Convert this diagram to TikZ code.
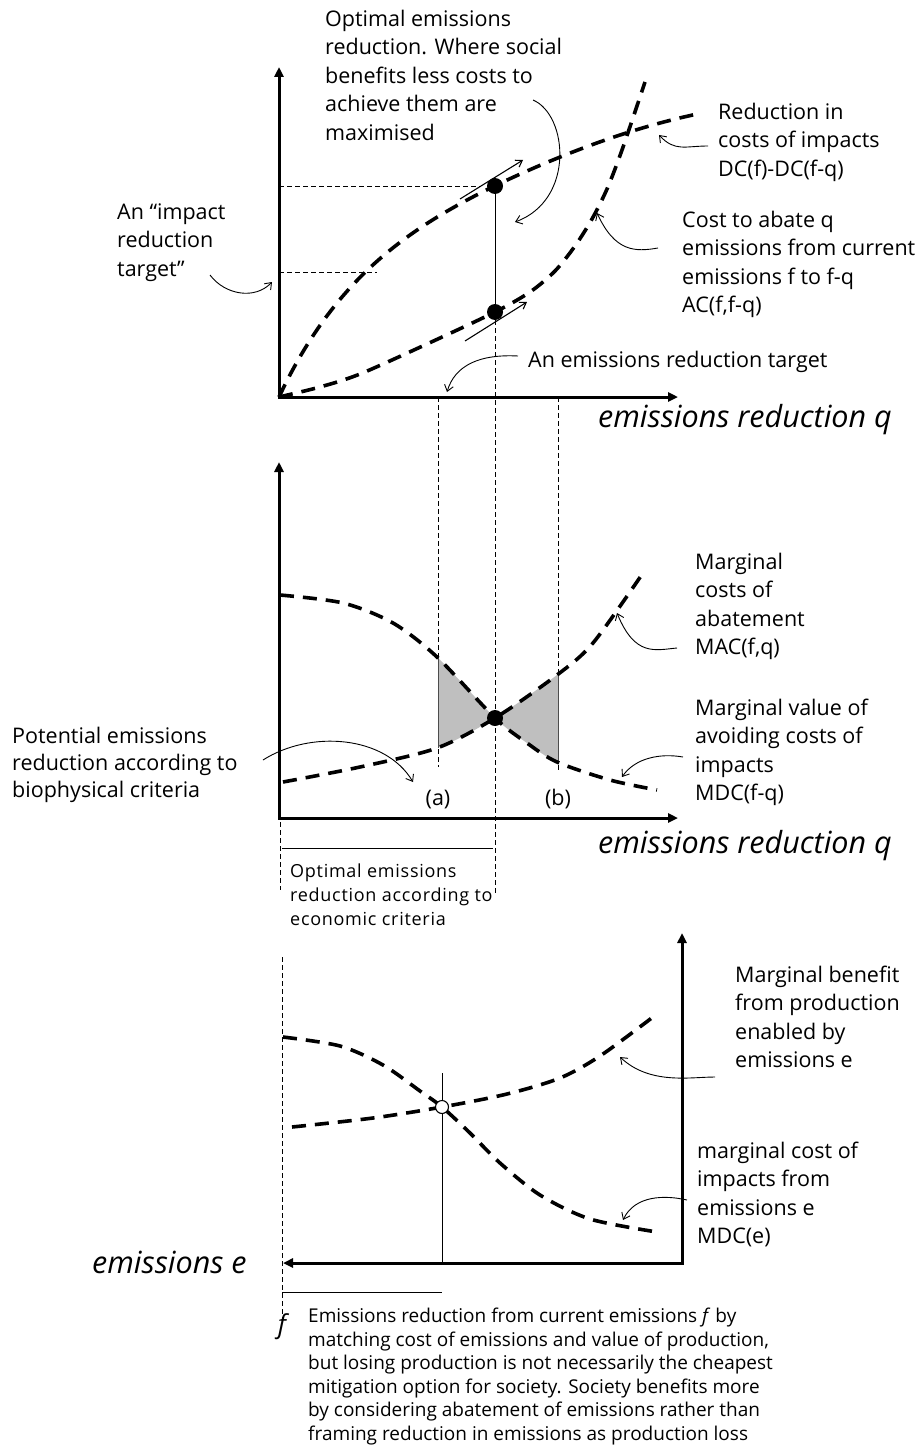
\documentclass[tikz,border=0pt]{standalone}
\usepackage{fontspec}
\setmainfont{Open Sans}
\newfontfamily\spreadfont[LetterSpace=4]{Open Sans}
\usetikzlibrary{arrows.meta}
\begin{document}
\begin{tikzpicture}[x=1pt,y=-1pt,
  axis/.style={line width=3pt, line join=miter, {Triangle[length=10pt,width=9pt]}-{Triangle[length=10pt,width=9pt]}},
  curve/.style={line width=3.6pt, dash pattern=on 14pt off 9pt},
  guide/.style={line width=0.9pt, dash pattern=on 5pt off 3pt},
  rule/.style={line width=1pt},
  note/.style={line width=0.9pt, -{Straight Barb[length=6pt,width=9pt]}},
  slope/.style={line width=1.1pt, -{Straight Barb[length=6pt,width=8pt]}},
  dot/.style={circle, fill=black, minimum size=16pt, inner sep=0pt},
  hollow/.style={circle, draw=black, fill=white, line width=1.1pt, minimum size=13pt, inner sep=0pt},
  lbl/.style={anchor=base west, align=left, inner sep=0pt, font=\fontsize{21.5}{28.5}\selectfont},
  axlbl/.style={anchor=base west, inner sep=0pt, font=\fontsize{30.5}{32}\selectfont\itshape},
  small/.style={anchor=base west, align=left, inner sep=0pt, font=\spreadfont\fontsize{18}{24}\selectfont},
]
\useasboundingbox[fill=white] (0,0) rectangle (920,1453);

% ---------- top panel: totals ----------
\draw[axis] (279,67) -- (279,397) -- (678,397);
\node[axlbl] (xq1) at (598,427) {emissions reduction q};

% guide lines
\draw[guide] (279,186) -- (480,186);
\draw[guide] (279,272) -- (377,272);
\draw[guide] (438,397) -- (438,767);
\draw[guide] (558,397) -- (558,772);
\draw[guide] (495,312) -- (495,893);

% reduction in impact costs DC(f)-DC(f-q)
\draw[curve] plot[domain=0:416, samples=80, smooth]
  ({279+\x}, {397-414.5*(\x/(\x+194.4))+7*sin(0.4327*\x)^2});
% abatement cost AC(f,f-q)
\draw[curve] plot[smooth] coordinates {(279,397) (320,387) (360,374) (427,344) (495,312) (530,292) (555,271) (575,246) (592,219) (607,189) (622,150) (645,82)};

\node[dot] (d1) at (495,186) {};
\node[dot] (d2) at (495,312) {};
\draw[rule] (d1) -- (d2);
\draw[slope] (460,199) -- (523,160);
\draw[slope] (465,341) -- (527,302);

\node[lbl] (opt) at (325,140) {Optimal emissions\\reduction. Where social\\benefits less costs to\\achieve them are\\maximised};
\node[lbl] (dcl) at (718,176) {Reduction in\\costs of impacts\\DC(f)-DC(f-q)};
\node[lbl] (acl) at (682,312.5) {Cost to abate q\\emissions from current\\emissions f to f-q\\AC(f,f-q)};
\node[lbl] (imp) at (117,276) {An “impact\\reduction\\target”};
\node[lbl] (tgt) at (528,367) {An emissions reduction target};

\coordinate (optA) at (533,100);  \coordinate (optB) at (515,222);
\coordinate (dcA) at (708,146);   \coordinate (dcB) at (659,135);
\coordinate (acA) at (658,248);   \coordinate (acB) at (597,213);
\coordinate (impA) at (210,275);  \coordinate (impB) at (272,282);
\coordinate (tgtA) at (518,356);  \coordinate (tgtB) at (447,392);
\draw[note] (optA) .. controls (568,115) and (575,200) .. (optB);
\draw[note] (dcA) .. controls (685,146) and (675,152) .. (dcB);
\draw[note] (acA) .. controls (635,252) and (615,252) .. (acB);
\draw[note] (impA) .. controls (225,295) and (255,300) .. (impB);
\draw[note] (tgtA) .. controls (480,354) and (455,365) .. (tgtB);

% ---------- middle panel: marginals ----------
\begin{scope}
  \clip (438,560) rectangle (558,800);
  \fill[black!25, even odd rule]
    plot[smooth] coordinates {(280,595) (343,603) (393,623) (437,657) (495,718) (527,743) (557,762) (610,780) (657,790)} -- (657,900) -- (280,900) -- cycle
    plot[smooth] coordinates {(283,782) (360,767) (437,748) (495,718) (557,675) (593,643) (643,573)} -- (643,900) -- (283,900) -- cycle;
\end{scope}
\draw[line width=1pt, black!70] (438,657) -- (438,748);
\draw[line width=1pt, black!70] (558,675) -- (558,762);

\draw[axis] (279,462) -- (279,818) -- (678,818);
\node[axlbl] (xq2) at (598,853) {emissions reduction q};

\draw[curve] plot[smooth] coordinates {(280,595) (343,603) (393,623) (437,657) (495,718) (527,743) (557,762) (610,780) (657,790)};
\draw[curve] plot[smooth] coordinates {(283,782) (360,767) (437,748) (495,718) (557,675) (593,643) (643,573)};
\node[dot] (d3) at (495,718) {};

\node[lbl, anchor=base] (la) at (438,805) {(a)};
\node[lbl, anchor=base] (lb) at (558,805) {(b)};

\node[lbl] (mac) at (695,654.5) {Marginal\\costs of\\abatement\\MAC(f,q)};
\node[lbl] (mdc) at (695,800.5) {Marginal value of\\avoiding costs of\\impacts\\MDC(f-q)};
\node[lbl, font=\fontsize{21.5}{27}\selectfont] (pot) at (12,797) {Potential emissions\\reduction according to\\biophysical criteria};

\coordinate (macA) at (677,648); \coordinate (macB) at (617,613);
\coordinate (mdcA) at (683,757); \coordinate (mdcB) at (622,777);
\coordinate (potA) at (263,760); \coordinate (potB) at (413,782);
\draw[note] (macA) .. controls (655,650) and (635,657) .. (macB);
\draw[note] (mdcA) .. controls (660,753) and (635,758) .. (mdcB);
\draw[note] (potA) .. controls (310,730) and (385,735) .. (potB);

% economic optimum span
\draw[guide] (280,822) -- (280,890);
\draw[rule] (282,848) -- (493,848);
\node[small] (econ) at (290,925) {Optimal emissions\\reduction according to\\economic criteria};

% ---------- bottom panel: production view ----------
\draw[axis] (682,933) -- (682,1263) -- (283,1263);
\node[axlbl] (xe) at (92,1273) {emissions e};
\draw[guide] (282,957) -- (282,1318);
\draw[rule] (442,1073) -- (442,1263);
\draw[rule] (282,1292) -- (442,1292);

\draw[curve] plot[smooth] coordinates {(283,1037) (340,1046) (383,1065) (420,1091) (442,1107) (470,1133) (500,1163) (540,1195) (590,1219) (657,1232)};
\draw[curve] plot[smooth] coordinates {(292,1127) (373,1118) (442,1107) (507,1094) (560,1078) (600,1056) (653,1017)};
\node[hollow] (d4) at (442,1107) {};

\node[lbl] (mb) at (735,1067.5) {Marginal benefit\\from production\\enabled by\\emissions e};
\node[lbl] (mdce) at (697,1243.5) {marginal cost of\\impacts from\\emissions e\\MDC(e)};
\coordinate (mbA) at (715,1077);  \coordinate (mbB) at (620,1057);
\coordinate (mdeA) at (687,1200); \coordinate (mdeB) at (623,1220);
\draw[note] (mbA) .. controls (690,1077) and (650,1085) .. (mbB);
\draw[note] (mdeA) .. controls (665,1195) and (635,1195) .. (mdeB);

\node[anchor=base, inner sep=0pt, font=\fontsize{26}{28}\selectfont\itshape] (fl) at (282,1333) {f};
\node[anchor=base west, align=left, inner sep=0pt, font=\fontsize{19}{23.5}\selectfont] (note) at (308,1440)
  {Emissions reduction from current emissions \textit{f} by\\matching cost of emissions and value of production,\\but losing production is not necessarily the cheapest\\mitigation option for society. Society benefits more\\by considering abatement of emissions rather than\\framing reduction in emissions as production loss};
\end{tikzpicture}
\end{document}
